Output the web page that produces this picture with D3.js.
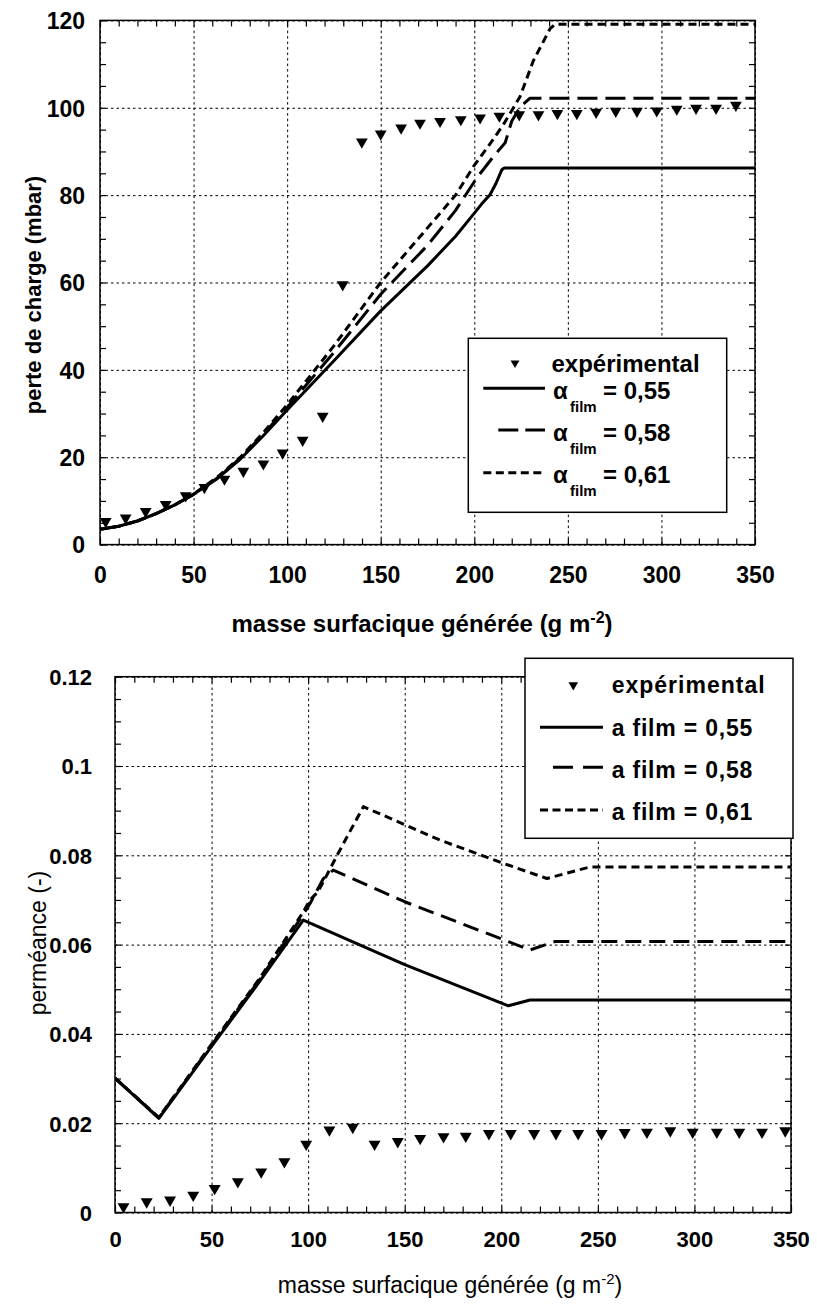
<!DOCTYPE html>
<html><head><meta charset="utf-8">
<script src="https://cdn.jsdelivr.net/npm/d3@7"></script>
<style>
body{margin:0;background:#fff;}
svg{display:block;font-family:"Liberation Sans",Arial,Helvetica,sans-serif;}
</style>
</head><body>
<svg id="c" width="817" height="1308"></svg>
<script>
// ---------- DATA: top panel (perte de charge, mbar) ----------
const topExpX = [3.0,13.7,24.4,35.1,45.8,55.8,66.5,76.6,87.3,97.6,108.3,119.0,129.7,139.9,150.0,160.9,171.0,181.7,192.8,203.1,213.4,224.0,234.3,244.4,254.8,265.1,275.6,286.9,297.5,308.2,318.5,329.2,339.8];
const topExpY = [5.3,6.1,7.6,9.2,11.2,13.1,15.0,16.8,18.5,21.0,23.9,29.4,59.5,92.2,94.0,95.4,96.5,96.9,97.3,97.7,98.1,98.4,98.4,98.7,98.7,99.0,99.2,99.2,99.3,99.7,99.9,99.9,100.6];
const top055 = [[0,3.5],[10,4.2],[20,5.4],[30,7.1],[40,9.1],[50,11.5],[62,14.9],[75,19.6],[87,24.8],[100,30.8],[125,42.1],[150,53.5],[175,63.8],[190,70.6],[199.5,75.6],[204,78.0],[208.4,80.1],[211.5,82.6],[214.7,85.8],[216,86.2],[350,86.2]];
const top058 = [[0,3.5],[10,4.2],[20,5.4],[30,7.1],[40,9.1],[50,11.5],[62,15.0],[75,19.8],[87,25.1],[100,31.4],[125,44.0],[150,57.3],[175,68.5],[190,76.5],[201.4,84.0],[210.2,88.8],[216.5,92.0],[220,96.9],[224.5,100.2],[229.8,102.2],[350,102.2]];
const top061 = [[0,3.5],[10,4.2],[20,5.4],[30,7.1],[40,9.1],[50,11.6],[62,15.2],[75,20.0],[87,25.5],[100,32.0],[125,45.5],[150,60.0],[175,72.5],[190,80.0],[199.5,86.5],[208,91.5],[215.5,96.1],[224.5,102.6],[231.6,110.8],[240.5,118.1],[243.2,119.1],[350,119.1]];
const topXTicks = [0,50,100,150,200,250,300,350];
const topYTicks = [0,20,40,60,80,100,120];
const topYLabels = ["0","20","40","60","80","100","120"];

// ---------- DATA: bottom panel (perméance) ----------
const botExpX = [4.4,16.4,28.5,40.5,51.6,63.6,75.7,87.7,99.0,111.0,123.1,134.4,146.4,158.0,170.1,181.6,193.6,204.9,217.0,228.3,239.8,251.9,263.9,275.4,287.5,299.1,311.6,323.2,335.0,347.0];
const botExpY = [0.0013,0.0024,0.0028,0.0039,0.0054,0.0069,0.0091,0.0114,0.0153,0.0185,0.0191,0.0153,0.0159,0.0166,0.0170,0.0171,0.0177,0.0177,0.0177,0.0177,0.0177,0.0177,0.0179,0.0180,0.0183,0.0180,0.0180,0.0180,0.0180,0.0183];
const bot055 = [[0,0.0301],[22.7,0.0211],[50,0.0372],[75,0.0518],[97.5,0.0655],[150,0.0555],[203.7,0.0463],[214.9,0.0476],[350,0.0476]];
const bot058 = [[0,0.0301],[22.7,0.0212],[50,0.0375],[75,0.0522],[97.5,0.0668],[101,0.0692],[107.9,0.0748],[113,0.0767],[150,0.0696],[214.9,0.0588],[227.9,0.0607],[350,0.0607]];
const bot061 = [[0,0.0301],[22.7,0.0213],[50,0.0377],[75,0.0525],[97,0.0670],[101,0.0700],[105,0.0718],[109,0.0750],[115,0.0800],[128.6,0.0909],[168.3,0.0834],[200.4,0.0783],[223.6,0.0748],[246,0.0774],[350,0.0774]];
const botXTicks = [0,50,100,150,200,250,300,350];
const botYTicks = [0,0.02,0.04,0.06,0.08,0.1,0.12];
const botYLabels = ["0","0.02","0.04","0.06","0.08","0.1","0.12"];

const seriesNames = ["expérimental","0,55","0,58","0,61"];

// ---------- DRAWING ----------
const svg = d3.select("#c");

function panel(cfg){
  const g = svg.append("g");
  const x = d3.scaleLinear().domain([0,350]).range([cfg.x0,cfg.x1]);
  const y = d3.scaleLinear().domain(cfg.yDomain).range([cfg.y0,cfg.y1]);
  const W = cfg.x1-cfg.x0, H = cfg.y0-cfg.y1;
  const gridStyle = s=>{s.select(".domain").remove(); s.selectAll("line").attr("stroke","#000").attr("stroke-width",1).attr("stroke-dasharray","2.5,3");};
  g.append("g").attr("transform",`translate(0,${cfg.y0})`)
   .call(d3.axisBottom(x).tickValues(cfg.xTicks).tickSize(-H).tickFormat("")).call(gridStyle);
  g.append("g").attr("transform",`translate(${cfg.x0},0)`)
   .call(d3.axisLeft(y).tickValues(cfg.yTicks).tickSize(-W).tickFormat("")).call(gridStyle);
  // minor ticks inward on four sides
  const xm = d3.range(0,351,10), ym = d3.range(cfg.yDomain[0], cfg.yDomain[1]+cfg.yMinor/2, cfg.yMinor);
  const tk = 6;
  const tickStyle = s=>{s.select(".domain").remove(); s.selectAll("line").attr("stroke","#000").attr("stroke-width",1.2);};
  g.append("g").attr("transform",`translate(0,${cfg.y0})`).call(d3.axisBottom(x).tickValues(xm).tickSize(-tk).tickFormat("")).call(tickStyle);
  g.append("g").attr("transform",`translate(0,${cfg.y1})`).call(d3.axisTop(x).tickValues(xm).tickSize(-tk).tickFormat("")).call(tickStyle);
  g.append("g").attr("transform",`translate(${cfg.x0},0)`).call(d3.axisLeft(y).tickValues(ym).tickSize(-tk).tickFormat("")).call(tickStyle);
  g.append("g").attr("transform",`translate(${cfg.x1},0)`).call(d3.axisRight(y).tickValues(ym).tickSize(-tk).tickFormat("")).call(tickStyle);
  // tick labels
  const lab = s=>s.attr("font-size",cfg.tickFont).attr("font-weight","bold").attr("font-family","Liberation Sans, Arial, sans-serif").attr("fill","#000");
  g.append("g").attr("transform",`translate(0,${cfg.xLabelY})`)
   .call(d3.axisBottom(x).tickValues(cfg.xTicks).tickSize(0).tickPadding(0))
   .call(s=>{s.select(".domain").remove(); lab(s.selectAll("text")).attr("dy",0).attr("y",0);});
  g.append("g").attr("transform",`translate(${cfg.yLabelX},0)`)
   .call(d3.axisLeft(y).tickValues(cfg.yTicks).tickSize(0).tickPadding(0).tickFormat((d,i)=>cfg.yLabels[i]))
   .call(s=>{s.select(".domain").remove(); lab(s.selectAll("text")).attr("x",0).attr("dy","0.36em");});
  // lines
  const line = d3.line().x(d=>x(d[0])).y(d=>y(d[1]));
  const clipId = "clip"+cfg.id;
  svg.append("clipPath").attr("id",clipId).append("rect").attr("x",cfg.x0).attr("y",cfg.y1-2).attr("width",W).attr("height",H+4);
  const lg = g.append("g").attr("clip-path",`url(#${clipId})`);
  cfg.lines.forEach(L=>{
    lg.append("path").datum(L.data).attr("d",line).attr("fill","none").attr("stroke","#000")
      .attr("stroke-width",L.w).attr("stroke-dasharray",L.dash).attr("stroke-linejoin","round");
  });
  // markers
  const tri = d3.symbol().type(d3.symbolTriangle).size(cfg.markerSize);
  g.append("g").selectAll("path").data(cfg.expX.map((d,i)=>[d,cfg.expY[i]])).join("path")
    .attr("d",tri).attr("fill","#000")
    .attr("transform",d=>`translate(${x(d[0])},${y(d[1])}) rotate(180)`);
  // frame
  g.append("rect").attr("x",cfg.x0).attr("y",cfg.y1).attr("width",W).attr("height",H)
    .attr("fill","none").attr("stroke","#000").attr("stroke-width",1.5);
  return {g,x,y};
}

panel({id:1,x0:100,x1:755,y0:544.6,y1:20.4,yDomain:[0,120],yMinor:5,
  xTicks:topXTicks,yTicks:topYTicks,yLabels:topYLabels,tickFont:23,xLabelY:583,yLabelX:85,
  expX:topExpX,expY:topExpY,markerSize:60,
  lines:[{data:top055,w:3,dash:null},{data:top058,w:3,dash:"20,8"},{data:top061,w:3,dash:"8,5"}]});

panel({id:2,x0:115,x1:791,y0:1212.5,y1:676.7,yDomain:[0,0.12],yMinor:0.005,
  xTicks:botXTicks,yTicks:botYTicks,yLabels:botYLabels,tickFont:22,xLabelY:1247,yLabelX:92,
  expX:botExpX,expY:botExpY,markerSize:62,
  lines:[{data:bot055,w:3,dash:null},{data:bot058,w:3,dash:"16,8"},{data:bot061,w:3,dash:"8,5"}]});

// axis titles
function xTitle(xc, yb, size, weight){
  const t = svg.append("text").attr("x",xc).attr("y",yb).attr("text-anchor","middle").attr("font-size",size).attr("font-weight",weight);
  t.append("tspan").text("masse surfacique générée (g m");
  t.append("tspan").attr("dy",-9).attr("font-size",Math.round(size*0.65)).text("-2");
  t.append("tspan").attr("dy",9).text(")");
}
xTitle(422,632,24,"bold");
xTitle(450,1293,23,"normal");
svg.append("text").attr("transform","translate(41,295) rotate(-90)").attr("text-anchor","middle").attr("font-size",22).attr("font-weight","bold")
  .text("perte de charge (mbar)");
svg.append("text").attr("transform","translate(46,943) rotate(-90)").attr("text-anchor","middle").attr("font-size",23)
  .text("perméance (-)");

// legend top
(function(){
  const g = svg.append("g");
  g.append("rect").attr("x",468.3).attr("y",338.3).attr("width",258.4).attr("height",174).attr("fill","#fff").attr("stroke","#000").attr("stroke-width",1.5);
  g.append("path").attr("d",d3.symbol().type(d3.symbolTriangle).size(34)()).attr("transform","translate(515,363) rotate(180)");
  g.append("text").attr("x",551.5).attr("y",371.7).attr("font-size",24).attr("font-weight","bold").text(seriesNames[0]);
  const rows = [{y:388.3,b:399,x1:483.3,dash:null},{y:430,b:440.7,x1:498.3,dash:"20,7"},{y:472.7,b:483.3,x1:483.3,dash:"8,4.5"}];
  rows.forEach((r,i)=>{
    g.append("line").attr("x1",r.x1).attr("x2",545).attr("y1",r.y).attr("y2",r.y).attr("stroke","#000").attr("stroke-width",3).attr("stroke-dasharray",r.dash);
    const t = g.append("text").attr("x",553).attr("y",r.b).attr("font-size",24).attr("font-weight","bold");
    t.append("tspan").text("α");
    t.append("tspan").attr("x",570).attr("dy",13).attr("font-size",15).text("film");
    t.append("tspan").attr("x",603).attr("dy",-13).text("= "+seriesNames[i+1]);
  });
})();

// legend bottom
(function(){
  const g = svg.append("g");
  g.append("rect").attr("x",525).attr("y",658.3).attr("width",268).attr("height",180).attr("fill","#fff").attr("stroke","#000").attr("stroke-width",1.5);
  g.append("path").attr("d",d3.symbol().type(d3.symbolTriangle).size(40)()).attr("transform","translate(573.3,685) rotate(180)");
  g.append("text").attr("x",611.7).attr("y",693.3).attr("font-size",23).attr("font-weight","bold").attr("letter-spacing",1).text(seriesNames[0]);
  const rows = [{y:727.3,b:736,x1:540,dash:null},{y:767.3,b:778,x1:553,dash:"20,10"},{y:810,b:820,x1:540,dash:"8,4.5"}];
  rows.forEach((r,i)=>{
    g.append("line").attr("x1",r.x1).attr("x2",603).attr("y1",r.y).attr("y2",r.y).attr("stroke","#000").attr("stroke-width",3).attr("stroke-dasharray",r.dash);
    g.append("text").attr("x",611.7).attr("y",r.b).attr("font-size",23).attr("font-weight","bold").attr("letter-spacing",0.8).text("a film = "+seriesNames[i+1]);
  });
})();
</script>
</body></html>
